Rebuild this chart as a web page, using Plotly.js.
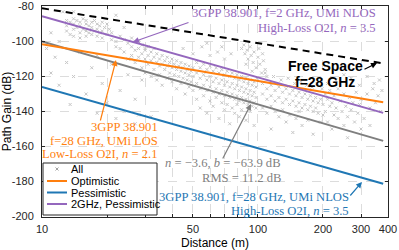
<!DOCTYPE html>
<html><head><meta charset="utf-8">
<script src="https://cdn.plot.ly/plotly-3.0.1.min.js"></script>
<style>html,body{margin:0;padding:0;background:#fff}#c{width:399px;height:250px}</style>
</head><body><div id="c"></div>
<script>
// Measured points "All": [distance (m), path gain (dB)]
const allPts = [
[13,-88],[13,-91],[13,-94],[13.5,-89],[13.5,-96],[14,-87],[14,-90],[14,-93],[14,-97],[14.5,-88],[14.5,-92],[15,-89],[15,-91],[15,-95],[15,-98],[15.5,-87],[15.5,-93],[16,-88],[16,-90],[16,-94],[16,-97],[16.5,-91],[16.5,-95],[17,-89],[17,-92],[17,-96],[17.5,-88],[17.5,-94],[18,-90],[18,-93],[18,-97],[18.5,-91],[18.5,-95],[19,-89],[19,-94],[19,-98],[19.5,-92],[20,-90],[20,-96],[20.5,-93],[21,-95],[21,-99],
[10.5,-104],[11,-118],[11.5,-109],[12,-125],[12,-100],[13,-112],[14,-120],[15,-106],[16,-130],[17,-115],[18,-108],[19,-124],[20,-135],[21,-113],[22,-103],[23,-128],[24,-140],[25,-119],[26,-110],[27,-133],[28,-142],[29,-122],[11,-95],[12.5,-83],[14,-83],[22,-85],[24,-92],[26,-98],[28,-100],[30,-104],[18,-141],[13.5,-136],[22,-144],[27,-147],[32,-143],
[22,-100],[23,-97],[23,-104],[24,-99],[24,-106],[25,-101],[25,-110],[26,-103],[26,-108],[27,-100],[27,-105],[27,-112],[28,-104],[28,-109],[29,-102],[29,-107],[29,-115],[30,-105],[30,-110],[30,-118],[31,-103],[31,-108],[31,-113],[32,-106],[32,-111],[32,-120],[33,-104],[33,-109],[33,-116],[34,-107],[34,-112],[34,-122],[35,-110],[35,-114],[35,-119],[36,-108],[36,-113],[36,-125],[37,-111],[37,-116],[38,-109],[38,-114],[38,-121],[39,-112],[39,-118],[40,-110],[40,-115],[40,-123],[41,-113],[41,-119],[42,-111],[42,-116],[42,-127],[43,-114],[43,-120],[44,-112],[44,-117],[44,-124],[45,-115],[45,-121],[46,-113],[46,-118],[46,-130],[47,-116],[47,-122],[48,-114],[48,-119],[48,-126],[49,-117],[49,-123],[50,-115],[50,-120],[50,-128],
[52,-112],[52,-118],[52,-124],[52,-133],[54,-115],[54,-121],[54,-127],[54,-138],[56,-113],[56,-119],[56,-125],[56,-131],[58,-116],[58,-122],[58,-128],[58,-141],[60,-114],[60,-120],[60,-126],[60,-134],[62,-117],[62,-123],[62,-129],[62,-137],[64,-115],[64,-121],[64,-127],[64,-132],[66,-118],[66,-124],[66,-130],[66,-144],[68,-116],[68,-122],[68,-128],[68,-135],[70,-119],[70,-125],[70,-131],[70,-139],[72,-117],[72,-123],[72,-129],[72,-136],[74,-120],[74,-126],[74,-132],[74,-147],[76,-118],[76,-124],[76,-130],[76,-138],[78,-121],[78,-127],[78,-133],[78,-141],[80,-119],[80,-125],[80,-131],[80,-136],[82,-122],[82,-128],[82,-134],[82,-143],[84,-120],[84,-126],[84,-132],[84,-139],[86,-123],[86,-129],[86,-135],[88,-121],[88,-127],[88,-133],[88,-145],[90,-124],[90,-130],[90,-136],[92,-122],[92,-128],[92,-134],[92,-140],[94,-125],[94,-131],[94,-137],[96,-123],[96,-129],[96,-135],[96,-148],[98,-126],[98,-132],[98,-138],
[84,-104],[86,-102],[87,-107],[89,-105],[90,-110],[92,-103],[93,-108],[95,-112],[96,-106],[98,-115],[100,-109],[101,-104],[102,-113],[104,-118],[105,-107],[106,-111],[108,-116],[110,-120],[88,-113],[94,-117],[99,-121],
[45,-104],[50,-107],[55,-103],[60,-108],[65,-106],[70,-110],[75,-107],[58,-101],[68,-103],
[105,-124],[105,-130],[105,-138],[110,-127],[110,-133],[110,-141],[115,-125],[115,-131],[115,-137],[115,-150],[120,-128],[120,-134],[120,-140],[125,-126],[125,-132],[125,-143],[130,-129],[130,-135],[130,-139],[135,-127],[135,-133],[135,-146],[140,-130],[140,-136],[140,-142],[145,-128],[145,-134],[145,-152],[150,-131],[150,-137],[150,-144],[155,-129],[155,-135],[155,-140],[160,-132],[160,-138],[160,-148],[165,-130],[165,-136],[170,-133],[170,-139],[170,-145],[175,-131],[175,-137],[180,-134],[180,-140],[180,-153],[185,-132],[185,-138],[190,-135],[190,-141],[195,-133],[195,-146],[200,-136],[200,-142],[108,-118],[118,-120],[128,-122],[138,-121],[148,-124],[158,-123],[168,-125],[178,-126],[188,-124],[198,-127],
[205,-130],[205,-140],[210,-133],[210,-146],[215,-128],[215,-137],[220,-135],[220,-150],[225,-131],[225,-142],[230,-138],[235,-127],[235,-144],[240,-134],[245,-140],[250,-130],[250,-148],[255,-137],[260,-143],[265,-132],[270,-139],[275,-135],[280,-146],[285,-129],[290,-141],[295,-136],[300,-133],[310,-144],[320,-130],[330,-138],[340,-127],[350,-135],[360,-131],[370,-140],[375,-128],[365,-122],[345,-124],[320,-120],[295,-125],[270,-121],[250,-119],[230,-122],[210,-124],[300,-150],[260,-155],[330,-148]
];
const allDist = allPts.map(p => p[0]);
const allGain = allPts.map(p => p[1]);

// Model line end points (distance in m, path gain in dB)
const lineDist = [10, 380];
const freeSpaceGain = [-81, -112.5];
const optimisticGain = [-101.5, -134.7];
const pessimisticGain = [-126, -181.3];
const ghz2PessGain = [-85.5, -140.8];
const fitGain = [-99.9, -156.8];

const xTickVals = [10,20,30,40,50,60,70,80,90,100,200,300,400];
const xTickText = ['10','','','','50','','','','','100','200','300','400'];
const yTickVals = [-200,-180,-160,-140,-120,-100,-80];
const yTickText = ['-200','-180','-160','-140','-120','-100','-80'];

const legendNames = ['All', 'Optimistic', 'Pessimistic', '2GHz, Pessimistic'];

const colOrange = '#ff7f0e', colBlue = '#1f77b4', colPurple = '#9467bd', colGray = '#7f7f7f', colPts = '#c6c6c6';
const serif = 'Liberation Serif, DejaVu Serif, serif';
const sans = 'Liberation Sans, Arial, sans-serif';
const fs = 12.6;

const traces = [
  {x: allDist, y: allGain, mode: 'markers', name: legendNames[0], type: 'scatter', showlegend: false,
   marker: {symbol: 'x-thin', size: 3, color: colPts, line: {width: 1, color: colPts}}},
  {x: lineDist, y: freeSpaceGain, mode: 'lines', showlegend: false, line: {color: '#000', width: 2, dash: '7px,5px'}},
  {x: lineDist, y: fitGain, mode: 'lines', showlegend: false, line: {color: colGray, width: 2}},
  {x: lineDist, y: optimisticGain, mode: 'lines', name: legendNames[1], showlegend: false, line: {color: colOrange, width: 2}},
  {x: lineDist, y: pessimisticGain, mode: 'lines', name: legendNames[2], showlegend: false, line: {color: colBlue, width: 2}},
  {x: lineDist, y: ghz2PessGain, mode: 'lines', name: legendNames[3], showlegend: false, line: {color: colPurple, width: 2}}
];

function arrow(x, y, ax, ay, color) {
  return {xref: 'paper', yref: 'paper', x: x, y: y, ax: ax, ay: ay, text: '', showarrow: true,
          arrowhead: 2, arrowsize: 1, arrowwidth: 1.2, arrowcolor: color};
}
function label(x, y, text, color, size, xanchor, family) {
  return {xref: 'paper', yref: 'paper', x: x, y: y, text: text, showarrow: false, xanchor: xanchor,
          yanchor: 'middle', font: {family: family || serif, size: size, color: color}};
}
// paper coords from pixel positions
const px = p => (p - 42) / 346;
const py = p => (217 - p) / 211;

const annotations = [
  label(px(378), py(13), '3GPP 38.901, f=2 GHz, UMi NLOS', colPurple, fs, 'right'),
  label(px(378), py(28), 'High-Loss O2I, <i>n</i> = 3.5', colPurple, fs, 'right'),
  arrow(px(133), py(42), 57, -20, colPurple),
  label(px(160), py(127), '3GPP 38.901', colOrange, fs, 'right'),
  label(px(160), py(140.5), 'f=28 GHz, UMi LOS', colOrange, fs, 'right'),
  label(px(160), py(154), 'Low-Loss O2I, <i>n</i> = 2.1', colOrange, fs, 'right'),
  arrow(px(116), py(60), -16, 62, colOrange),
  label(px(283), py(163), '<i>n</i> = −3.6, <i>b</i> = −63.9 dB', colGray, fs, 'right'),
  label(px(283), py(178), 'RMS = 11.2 dB', colGray, fs, 'right'),
  arrow(px(251), py(104), -29, 56, colGray),
  label(px(351), py(197), '3GPP 38.901, f=28 GHz, UMi NLOS', colBlue, fs, 'right'),
  label(px(351), py(211), 'High-Loss O2I, <i>n</i> = 3.5', colBlue, fs, 'right'),
  arrow(px(362), py(182), -13, 15, colBlue),
  label(px(325), py(66), '<b>Free Space</b>', '#000', 14, 'center', sans),
  label(px(325), py(82), '<b>f=28 GHz</b>', '#000', 14, 'center', sans),
  arrow(px(377), py(63), -14, 7, '#000'),
  // legend texts
  label(px(69), py(169), legendNames[0], '#000', 11, 'left', sans),
  label(px(69), py(181), legendNames[1], '#000', 11, 'left', sans),
  label(px(69), py(192.5), legendNames[2], '#000', 11, 'left', sans),
  label(px(69), py(204), legendNames[3], '#000', 11, 'left', sans)
];

const shapes = [
  {type: 'rect', xref: 'paper', yref: 'paper', x0: px(43), x1: px(157), y0: py(215), y1: py(163),
   fillcolor: '#fff', line: {color: '#262626', width: 1}, layer: 'above'},
  {type: 'line', xref: 'paper', yref: 'paper', x0: px(55.5), x1: px(58.5), y0: py(167.5), y1: py(170.5), line: {color: '#a0a0a0', width: 1}, layer: 'above'},
  {type: 'line', xref: 'paper', yref: 'paper', x0: px(55.5), x1: px(58.5), y0: py(170.5), y1: py(167.5), line: {color: '#a0a0a0', width: 1}, layer: 'above'},
  {type: 'line', xref: 'paper', yref: 'paper', x0: px(47), x1: px(67), y0: py(181), y1: py(181), line: {color: colOrange, width: 2}, layer: 'above'},
  {type: 'line', xref: 'paper', yref: 'paper', x0: px(47), x1: px(67), y0: py(192.5), y1: py(192.5), line: {color: colBlue, width: 2}, layer: 'above'},
  {type: 'line', xref: 'paper', yref: 'paper', x0: px(47), x1: px(67), y0: py(204), y1: py(204), line: {color: colPurple, width: 2}, layer: 'above'}
];

const axisCommon = {
  showline: true, mirror: 'ticks', linecolor: '#262626', linewidth: 1,
  ticks: 'inside', ticklen: 3, tickcolor: '#262626',
  showgrid: true, gridcolor: '#dcdcdc', griddash: 'dash', gridwidth: 1,
  zeroline: false, ticklabeloverflow: 'allow', tickfont: {family: sans, size: 11, color: '#262626'}
};

const layout = {
  width: 399, height: 250,
  margin: {l: 42, r: 11, t: 6, b: 33},
  paper_bgcolor: '#fff', plot_bgcolor: '#fff',
  showlegend: false,
  xaxis: Object.assign({}, axisCommon, {
    type: 'log', range: [1, Math.log10(400)], tickmode: 'array', tickvals: xTickVals, ticktext: xTickText,
    ticklabelstandoff: 2,
    title: {text: 'Distance (m)', font: {family: sans, size: 12, color: '#000'}, standoff: 6}
  }),
  yaxis: Object.assign({}, axisCommon, {
    range: [-200.3, -79.7], tickmode: 'array', tickvals: yTickVals, ticktext: yTickText,
    ticklabelstandoff: 5,
    title: {text: 'Path Gain (dB)', font: {family: sans, size: 12, color: '#000'}, standoff: 2}
  }),
  shapes: shapes,
  annotations: annotations
};

Plotly.newPlot('c', traces, layout, {displayModeBar: false, staticPlot: true});
</script></body></html>
